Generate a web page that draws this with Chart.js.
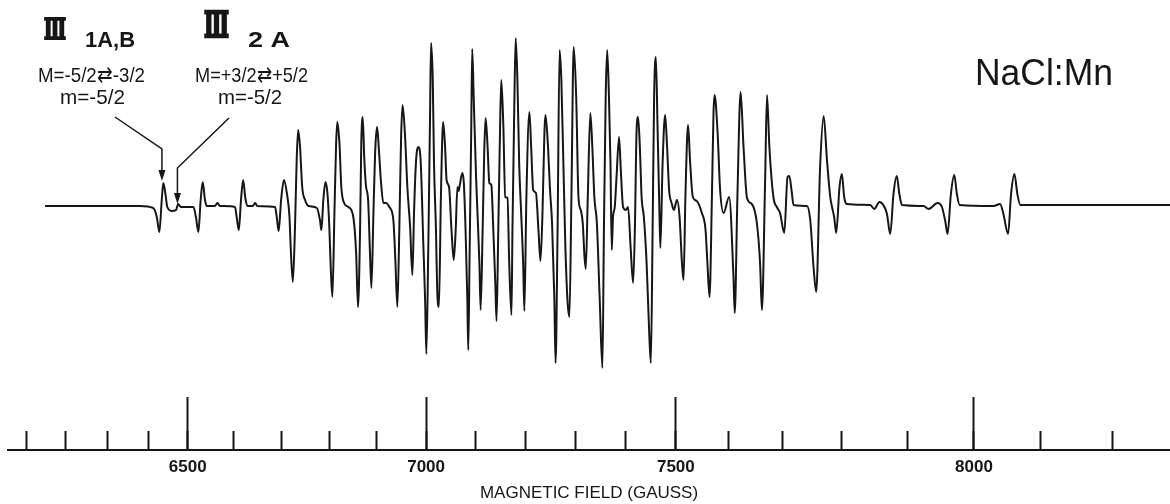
<!DOCTYPE html>
<html>
<head>
<meta charset="utf-8">
<title>NaCl:Mn spectrum</title>
<script src="https://cdn.jsdelivr.net/npm/chart.js@4.4.1/dist/chart.umd.min.js"></script>
<style>
  html, body { margin: 0; padding: 0; background: #fff; }
  #wrap { width: 1170px; height: 504px; }
</style>
</head>
<body>
<div id="wrap"><canvas id="spectrum" width="1170" height="504"></canvas></div>
<script>
// field markers (G) and where each pip sits along the recorder sweep (chart units)
const markerField = [6000, 6100, 6200, 6300, 6400, 6500, 6600, 6700, 6800, 6900, 7000, 7100,
    7200, 7300, 7400, 7500, 7600, 7700, 7800, 7900, 8000, 8100, 8200, 8300];
const markerSweep = [-12.3, 26.7, 65.7, 107.3, 148.0, 187.7, 233.0, 281.0, 329.0, 376.0, 426.0, 475.3,
    525.0, 575.3, 625.7, 675.7, 728.7, 782.0, 841.7, 907.0, 973.7, 1040.0, 1112.3, 1185.0];

const minorTicks = markerField.filter((f) => f >= 6100 && f <= 8200);
const majorTicks = [6500, 7000, 7500, 8000];

// recorder trace: magnetic field (G) and derivative signal (arb. units)
const fieldG = [
    6147, 6380, 6413, 6422, 6428.5, 6434.5, 6438.5, 6443.5, 6448.5, 6460, 6470.5, 6476, 6482.5,
    6512.5, 6518, 6523.5, 6528.5, 6533, 6538, 6542, 6560, 6565.5, 6571,
    6604, 6607.5, 6612, 6616.5, 6621, 6625.5, 6630, 6641, 6646, 6650.5,
    6687.5, 6691, 6695, 6700, 6706, 6712, 6717.5, 6720, 6724.5, 6729, 6732.5, 6735.5, 6739.5, 6744, 6750, 6757,
    6774.5, 6781, 6784, 6788, 6792.5, 6796.5, 6800.5, 6803.5, 6807, 6811.5, 6815, 6817.5, 6822, 6826, 6832,
    6841, 6851.5, 6857.5, 6861.5, 6866, 6868.5, 6871.5, 6875, 6878.5, 6883, 6887, 6890, 6894.5, 6898.5,
    6902, 6906, 6909.5, 6914.5, 6920, 6926.5, 6934.5, 6938.5, 6942.5, 6946.5, 6950, 6953, 6958, 6962.5,
    6968, 6972.5, 6976, 6980, 6984.5, 6989, 6994.5, 6998, 7000.5, 7004.5, 7008, 7010, 7013.5, 7016,
    7020, 7022.5, 7026, 7030, 7034.5, 7038.5, 7041.5, 7046.5, 7051.5, 7056, 7060, 7063.5, 7066, 7068,
    7073.5, 7076.5, 7080, 7083.5, 7085.5, 7088, 7091.5, 7093.5, 7096.5, 7101.5, 7104.5, 7108, 7110.5,
    7114.5, 7118, 7120.5, 7124.5, 7128, 7132, 7136, 7140, 7142.5, 7146, 7149.5, 7152, 7156, 7160,
    7164.5, 7168, 7172.5, 7174.5, 7178, 7181, 7184.5, 7188, 7192, 7196, 7198.5, 7202.5, 7208.5, 7212,
    7216, 7221.5, 7226.5, 7230.5, 7234.5, 7238.5, 7240.5, 7245.5, 7249.5, 7253.5, 7258, 7260.5, 7264.5,
    7268.5, 7272, 7276, 7280, 7284.5, 7288, 7292, 7296.5, 7301.5, 7306, 7310.5, 7314.5, 7318, 7320.5,
    7324.5, 7329.5, 7333.5, 7337.5, 7342.5, 7348, 7353.5, 7356.5, 7360, 7363, 7366.5, 7369.5, 7372,
    7374.5, 7378, 7381.5, 7386.5, 7390, 7394.5, 7400, 7404.5, 7409.5, 7414.5, 7418, 7421.5, 7424.5,
    7428, 7431.5, 7436, 7441.5, 7446.5, 7450, 7453.5, 7456.5, 7460, 7463.5, 7466.5, 7469, 7473.5,
    7478.5, 7482.5, 7486.5, 7491.5, 7496, 7502, 7507, 7511.5, 7514.5, 7518, 7523, 7527, 7532,
    7539.5, 7549, 7556, 7559.5, 7563.5, 7568, 7571, 7573, 7578.5, 7583.5, 7590, 7600.5, 7608.5,
    7611, 7616, 7622, 7627.5, 7634, 7643, 7652.5, 7658.5, 7662, 7668, 7671.5, 7676, 7683.5, 7690,
    7696, 7703.5, 7709, 7712, 7716, 7719, 7741.5, 7747, 7752.5, 7757, 7763.5, 7769.5, 7775, 7780.5,
    7783.5, 7787, 7790.5, 7796, 7800, 7803.5, 7807.5, 7843.5, 7849.5, 7857.5, 7863.5, 7869, 7874,
    7879, 7884, 7888, 7892, 7924.5, 7932, 7945.5, 7952, 7957, 7960.5, 7965.5, 7970.5, 7974.5, 7978.5,
    8029.5, 8039.5, 8044.5, 8051.5, 8056, 8061, 8065.5, 8070, 8279
];
const signal = [
    0, 0, -2, -11, -26, 6, 23, 13, -1, -5, -4, 2, -1,
    -1, -11, -26, 6, 24, 6, 0, 0, 3, 0,
    -1, -11, -24, 6, 26, 8, 0, 0, 3, 0,
    -1, -11, -25, 6, 26, 13, -11, -41, -76, -21, 46, 76, 59, 19, 6, 0,
    -2, -14, -24, 6, 24, 13, -21, -61, -91, -4, 63, 84, 63, 19, 3,
    -1, -11, -47, -101, -21, 63, 89, 46, 20, 6, -47, -82, -4, 59,
    79, 53, 26, 3, 3, -1, -14, -54, -101, -21, 69, 101, 69, 19,
    -21, -69, -4, 46, 59, 46, -39, -94, -148, -39, 91, 163, 126, 43,
    -24, -84, -101, 9, 84, 59, 26, 19, -24, -54, -24, 19, 15, 20,
    33, 23, -24, -91, -144, -57, 76, 157, 109, 26, -11, -57, -104,
    -24, 59, 88, 59, 23, 21, -24, -77, -115, -24, 76, 126, 83, 9,
    8, -57, -109, -24, 93, 168, 126, 43, -7, -57, -105, 9, 94, 59,
    16, 13, -24, -55, -7, 76, 91, 59, 16, -17, -91, -157, -24,
    156, 126, 43, -41, -97, -111, 9, 159, 109, 9, -4, -17, -51, -63,
    9, 93, 59, 9, -17, -91, -162, -24, 109, 156, 109, 43, -44,
    -11, -1, 29, 69, 36, -1, -4, -1, -41, -77, -24, 76, 89,
    59, 9, -11, -57, -124, -157, -24, 109, 149, 76, 9, -42, 43,
    91, 59, 16, 3, -4, 6, -11, -57, -74, 9, 81, 43, 9,
    5, -7, -24, -57, -91, 9, 93, 111, 76, 16, -7, 9, -69,
    -107, 9, 114, 59, 8, 2, -17, -57, -104, 26, 111, 59, 9, -1,
    -7, -27, 29, 30, 14, 1, 0, -14, -61, -86, 39, 90, 46, 9,
    -1, -11, -27, 19, 32, 9, 2, 1, -3, 4, 1, -8, -28,
    12, 30, 12, 1, 0, -3, 3, -1, -15, -28, 12, 31, 12, 1,
    0, 2, -8, -28, 12, 32, 12, 1, 1
];

const ink = '#161616';

// x axis whose field values follow the (non-linear) marker calibration of the sweep
class MarkerScale extends Chart.LinearScale {
    static id = 'marker';
    static defaults = {};

    sweepOf(v) {
        let i = 1;
        while (i < markerField.length - 1 && v > markerField[i]) i++;
        const f0 = markerField[i - 1], f1 = markerField[i];
        const s0 = markerSweep[i - 1], s1 = markerSweep[i];
        return s0 + ((v - f0) / (f1 - f0)) * (s1 - s0);
    }

    fieldOf(s) {
        let i = 1;
        while (i < markerSweep.length - 1 && s > markerSweep[i]) i++;
        const f0 = markerField[i - 1], f1 = markerField[i];
        const s0 = markerSweep[i - 1], s1 = markerSweep[i];
        return f0 + ((s - s0) / (s1 - s0)) * (f1 - f0);
    }

    getPixelForValue(value) {
        if (value === null || value === undefined) return NaN;
        const a = this.sweepOf(this.min), b = this.sweepOf(this.max);
        return this.getPixelForDecimal((this.sweepOf(value) - a) / (b - a));
    }

    getValueForPixel(pixel) {
        const a = this.sweepOf(this.min), b = this.sweepOf(this.max);
        return this.fieldOf(a + this.getDecimalForPixel(pixel) * (b - a));
    }
}
Chart.register(MarkerScale);

function putText(ctx, str, cx, cy, font, width, heavy) {
    ctx.save();
    ctx.font = font;
    ctx.textAlign = 'center';
    ctx.textBaseline = 'middle';
    const w = ctx.measureText(str).width;
    ctx.translate(cx, cy);
    if (width) ctx.scale(width / w, 1);
    ctx.fillText(str, 0, 0);
    if (heavy) {
        ctx.lineWidth = heavy;
        ctx.lineJoin = 'miter';
        ctx.strokeText(str, 0, 0);
    }
    ctx.restore();
}

function arrow(ctx, pts) {
    ctx.beginPath();
    ctx.moveTo(pts[0][0], pts[0][1]);
    for (let i = 1; i < pts.length; i++) ctx.lineTo(pts[i][0], pts[i][1]);
    ctx.stroke();
    const [tx, ty] = pts[pts.length - 1];
    ctx.beginPath();
    ctx.moveTo(tx, ty + 10);
    ctx.lineTo(tx - 3.5, ty - 1);
    ctx.lineTo(tx + 3.5, ty - 1);
    ctx.closePath();
    ctx.fill();
}

// labels and the two arrows pointing at the weak lines
const annotations = {
    id: 'annotations',
    afterDraw(chart) {
        const { ctx } = chart;
        const x = chart.scales.x;
        ctx.save();
        ctx.fillStyle = ink;
        ctx.strokeStyle = ink;
        ctx.lineWidth = 1.5;

        putText(ctx, 'Ⅲ', 55, 31.5, 'bold 28px "DejaVu Serif"', 22, 2.2);
        putText(ctx, '1A,B', 110, 40.5, 'bold 22px "Liberation Sans"', 50);
        putText(ctx, 'M=-5/2⇄-3/2', 91.5, 76.5, '21px "Liberation Sans"', 107);
        putText(ctx, 'm=-5/2', 92.5, 98, '21px "Liberation Sans"', 65);

        putText(ctx, 'Ⅲ', 216.5, 28, 'bold 36px "DejaVu Serif"', 25, 2.6);
        putText(ctx, '2 A', 269, 40.5, 'bold 22px "Liberation Sans"', 42);
        putText(ctx, 'M=+3/2⇄+5/2', 251.5, 76.5, '21px "Liberation Sans"', 113);
        putText(ctx, 'm=-5/2', 250, 98, '21px "Liberation Sans"', 64);

        putText(ctx, 'NaCl:Mn', 1044, 75, '36px "Liberation Sans"', 138);

        ctx.lineWidth = 1.5;
        const xl = x.getPixelForValue(6435);
        const xr = x.getPixelForValue(6474);
        arrow(ctx, [[115, 117], [xl, 149], [xl, 171]]);
        arrow(ctx, [[229, 118], [xr, 168], [xr, 194]]);
        ctx.restore();
    },
};

new Chart(document.getElementById('spectrum'), {
    type: 'line',
    data: {
        datasets: [{
            data: fieldG.map((f, i) => ({ x: f, y: signal[i] })),
            borderColor: ink,
            borderWidth: 2,
            pointRadius: 0,
            cubicInterpolationMode: 'monotone',
        }],
    },
    options: {
        responsive: false,
        animation: false,
        devicePixelRatio: 1,
        layout: { padding: { left: 8, right: 0, top: 0, bottom: 0 } },
        plugins: { legend: { display: false }, tooltip: { enabled: false } },
        scales: {
            x: {
                type: 'marker',
                position: 'bottom',
                min: 6052,
                max: 8279,
                bounds: 'data',
                afterBuildTicks: (axis) => { axis.ticks = minorTicks.map((v) => ({ value: v })); },
                afterFit: (axis) => { axis.height = 54; },
                grid: {
                    drawOnChartArea: false,
                    drawTicks: true,
                    tickLength: -19,
                    tickWidth: 2,
                    tickColor: ink,
                },
                border: { display: true, width: 2, color: ink },
                ticks: {
                    autoSkip: false,
                    maxRotation: 0,
                    padding: 26,
                    color: ink,
                    font: { family: '"Liberation Sans", Arial, sans-serif', size: 17, weight: 'bold' },
                    callback: (v) => (majorTicks.includes(v) ? String(v) : ''),
                },
                title: {
                    display: true,
                    text: 'MAGNETIC FIELD (GAUSS)',
                    color: ink,
                    padding: { top: 0, bottom: 0 },
                    font: { family: '"Liberation Sans", Arial, sans-serif', size: 17 },
                },
            },
            x2: {
                type: 'marker',
                axis: 'x',
                position: { y: -244 },
                min: 6052,
                max: 8279,
                bounds: 'data',
                afterBuildTicks: (axis) => { axis.ticks = majorTicks.map((v) => ({ value: v })); },
                grid: {
                    drawOnChartArea: false,
                    drawTicks: true,
                    tickLength: -53,
                    tickWidth: 2,
                    tickColor: ink,
                },
                border: { display: false },
                ticks: { display: false },
            },
            y: {
                type: 'linear',
                display: false,
                min: -244,
                max: 206,
            },
        },
    },
    plugins: [annotations],
});
</script>
</body>
</html>
